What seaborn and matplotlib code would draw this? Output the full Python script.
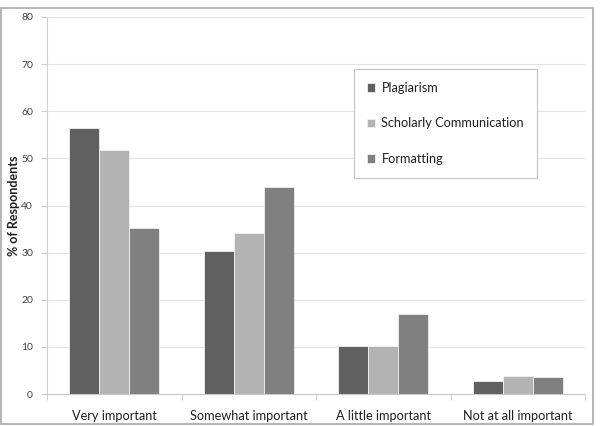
import numpy as np
import pandas as pd
import matplotlib
matplotlib.use('Agg')
import matplotlib.pyplot as plt
import seaborn as sns
from matplotlib.patches import Rectangle

# data
categories = ['Very important', 'Somewhat important', 'A little important', 'Not at all important']
series = ['Plagiarism', 'Scholarly Communication', 'Formatting']
plagiarism = [56.4, 30.4, 10.1, 2.8]
scholarly = [51.8, 34.1, 10.1, 3.8]
formatting = [35.3, 43.9, 17.0, 3.6]
colors = ['#606060', '#b3b3b3', '#808080']

rows = []
for name, vals in zip(series, [plagiarism, scholarly, formatting]):
    for c, v in zip(categories, vals):
        rows.append({'category': c, 'series': name, 'value': v})
df = pd.DataFrame(rows)

sns.set_style('white')
plt.rcParams['font.family'] = ['Lato', 'DejaVu Sans']

fig = plt.figure(figsize=(6.02, 4.26), dpi=100)
ax = fig.add_axes([47/602, 32/426, 538/602, 377/426])

sns.barplot(data=df, x='category', y='value', hue='series', palette=colors,
            hue_order=series, order=categories, width=0.67, ax=ax,
            edgecolor='#f0f0f0', linewidth=0.6, saturation=1, legend=True)

ax.set_ylim(0, 80)
ax.set_xlim(-0.5, 3.5)
ax.set_yticks(np.arange(0, 81, 10))
ax.yaxis.grid(True, color='#e4e4e4', linewidth=0.8)
ax.set_axisbelow(True)
for s in ['top', 'right']:
    ax.spines[s].set_visible(False)
ax.spines['left'].set_color('#d0d0d0')
ax.spines['bottom'].set_color('#c8c8c8')
ax.tick_params(axis='y', which='both', left=True, length=4, color='#d0d0d0',
               labelsize=7.5, labelcolor='#404040', pad=6)
ax.tick_params(axis='x', bottom=False, labelsize=9.2, labelcolor='#202020', pad=8)
ax.set_xticks([-0.5, 0.5, 1.5, 2.5, 3.5], minor=True)
ax.tick_params(axis='x', which='minor', bottom=True, length=4, color='#c8c8c8')
ax.set_xlabel('')
ax.set_ylabel('% of Respondents', fontsize=9, fontweight='bold', color='#202020')
ax.yaxis.set_label_coords(-27/538, 0.5)

handles, labels = ax.get_legend_handles_labels()
leg = ax.legend(handles, labels, loc='upper left',
                bbox_to_anchor=(354/602, 1 - 69/426), bbox_transform=fig.transFigure,
                borderaxespad=0, fancybox=False, frameon=True, edgecolor='#c4c4c4',
                framealpha=1, handlelength=0.65, handleheight=0.65, handletextpad=0.5,
                labelspacing=1.85, borderpad=1.0, fontsize=9.2)
leg.get_frame().set_linewidth(0.8)
for t in leg.get_texts():
    t.set_color('#202020')

fig.patches.append(Rectangle((1/602, 2/426), 592/602, 416/426, transform=fig.transFigure,
                             fill=False, edgecolor='#a8a8a8', linewidth=1.2))

fig.savefig('out.png', dpi=100)
